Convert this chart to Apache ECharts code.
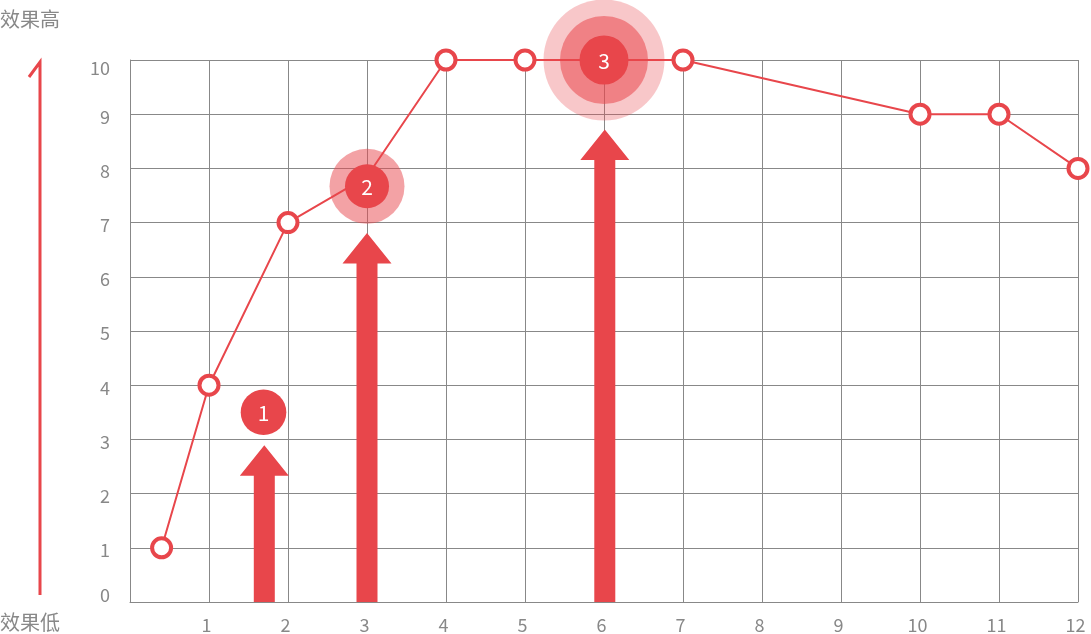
<!DOCTYPE html>
<html>
<head>
<meta charset="utf-8">
<script src="https://cdn.jsdelivr.net/npm/echarts@6/dist/echarts.min.js"></script>
<style>
html,body{margin:0;padding:0;background:#fff;}
#chart{width:1091px;height:634px;}
</style>
</head>
<body>
<div id="chart"></div>
<script>
// ---- data ----
const xTicks = [1, 2, 3, 4, 5, 6, 7, 8, 9, 10, 11, 12];
const yTicks = [0, 1, 2, 3, 4, 5, 6, 7, 8, 9, 10];
const lineX = [0.4, 1, 2, 3, 4, 5, 6, 7, 10, 11, 12];
const lineY = [1, 4, 7, 7.85, 10, 10, 10, 10, 9, 9, 8];
const lineHidden = [false, false, false, true, false, false, true, false, false, false, false];
const badgeX = [1.69, 3, 6];
const badgeY = [3.5, 7.67, 10];
const badgeLabels = ['1', '2', '3'];
const arrowX = [1.7, 3, 6.01];
const arrowTip = [2.89, 6.81, 8.72];
const topLabel = '效果高';
const bottomLabel = '效果低';

// ---- styles ----
const RED = '#e8464b';
const GRAY = '#888888';
const FONT = '"Noto Sans CJK SC", "Noto Sans", sans-serif';

const chart = echarts.init(document.getElementById('chart'), null, {renderer: 'canvas'});

const lineData = lineX.map((x, i) => lineHidden[i]
  ? {value: [x, lineY[i]], symbol: 'none'}
  : {value: [x, lineY[i]]});
const badgeData = badgeX.map((x, i) => [x, badgeY[i], i]);
const arrowData = arrowX.map((x, i) => [x, arrowTip[i]]);

// halo rings per badge (radius, alpha), outermost first
const haloStyles = [
  [],
  [[37.5, 0.5]],
  [[60.5, 0.3], [44, 0.54]]
];
const innerRadius = [22.8, 22, 24.5];
const yMin = yTicks[0], yMax = yTicks[yTicks.length - 1];

const option = {
  animation: false,
  textStyle: {fontFamily: FONT},
  grid: {left: 130, right: 13, top: 60, bottom: 32, containLabel: false},
  xAxis: {
    type: 'value', min: 0, max: 12, interval: 1,
    axisLine: {show: true, lineStyle: {color: GRAY, width: 1}},
    axisTick: {show: false},
    splitLine: {show: true, lineStyle: {color: GRAY, width: 1}},
    axisLabel: {
      showMinLabel: false, color: GRAY, fontSize: 18, margin: 14, fontFamily: FONT,
      padding: [0, 5, 0, 0],
      formatter: v => (xTicks.indexOf(v) >= 0 ? String(v) : '')
    }
  },
  yAxis: {
    type: 'value', min: yMin, max: yMax, interval: 1,
    axisLine: {show: true, lineStyle: {color: GRAY, width: 1}},
    axisTick: {show: false},
    splitLine: {show: true, lineStyle: {color: GRAY, width: 1}},
    axisLabel: {
      color: GRAY, fontSize: 18, margin: 20, fontFamily: FONT,
      formatter: v => {
        if (yTicks.indexOf(v) < 0) return '';
        if (v === yMax) return '{top|' + v + '}';
        if (v === yMin) return '{bot|' + v + '}';
        return '{mid|' + v + '}';
      },
      rich: {
        top: {color: GRAY, fontSize: 18, fontFamily: FONT, padding: [16, 0, 0, 0]},
        bot: {color: GRAY, fontSize: 18, fontFamily: FONT, padding: [0, 0, 14, 0]},
        mid: {color: GRAY, fontSize: 18, fontFamily: FONT, padding: [5, 0, 0, 0]}
      }
    }
  },
  graphic: [
    {type: 'polyline', z: 100, shape: {points: [[29, 77], [40, 62], [40, 595]]},
      style: {stroke: RED, lineWidth: 3, fill: null}},
    {type: 'text', left: 0, top: 9, style: {text: topLabel, fill: GRAY, font: '20px ' + FONT}},
    {type: 'text', left: 0, top: 612, style: {text: bottomLabel, fill: GRAY, font: '20px ' + FONT}}
  ],
  series: [
    {
      type: 'custom', name: 'halo', z: 1,
      data: badgeData,
      renderItem: function (params, api) {
        const c = api.coord([api.value(0), api.value(1)]);
        const idx = api.value(2);
        const children = haloStyles[idx].map(h => ({
          type: 'circle', shape: {cx: c[0], cy: c[1], r: h[0]},
          style: {fill: 'rgba(232,70,75,' + h[1] + ')'}
        }));
        return {type: 'group', children: children};
      }
    },
    {
      type: 'custom', name: 'arrows', z: 2,
      data: arrowData,
      renderItem: function (params, api) {
        const tip = api.coord([api.value(0), api.value(1)]);
        const base = api.coord([api.value(0), 0]);
        const x = tip[0], ty = tip[1], by = base[1];
        const hw = 24.5, sw = 10.5, hh = 30.5;
        return {
          type: 'polygon',
          shape: {points: [[x - sw, by], [x - sw, ty + hh], [x - hw, ty + hh], [x, ty],
            [x + hw, ty + hh], [x + sw, ty + hh], [x + sw, by]]},
          style: {fill: RED}
        };
      }
    },
    {
      type: 'line', name: 'effect', z: 3,
      data: lineData,
      symbol: 'circle', symbolSize: 19,
      lineStyle: {color: RED, width: 2},
      itemStyle: {color: '#ffffff', borderColor: RED, borderWidth: 4},
      emphasis: {disabled: true}
    },
    {
      type: 'custom', name: 'badges', z: 4,
      data: badgeData,
      renderItem: function (params, api) {
        const c = api.coord([api.value(0), api.value(1)]);
        const idx = api.value(2);
        return {
          type: 'group',
          children: [
            {type: 'circle', shape: {cx: c[0], cy: c[1], r: innerRadius[idx]}, style: {fill: RED}},
            {type: 'text', x: c[0], y: c[1] + 1,
              style: {text: badgeLabels[idx], fill: '#ffffff', font: '21px ' + FONT,
                align: 'center', verticalAlign: 'middle'}}
          ]
        };
      }
    }
  ]
};
chart.setOption(option);
</script>
</body>
</html>
